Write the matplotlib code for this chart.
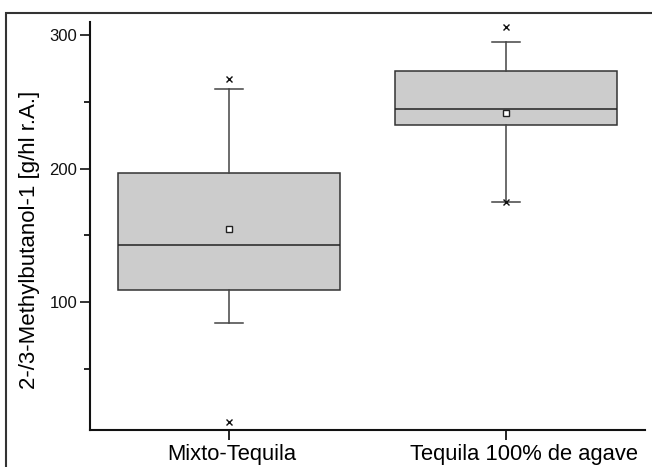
import matplotlib
matplotlib.use("Agg")
import matplotlib.pyplot as plt
from matplotlib.patches import Rectangle
from matplotlib.ticker import MultipleLocator
from matplotlib.transforms import ScaledTranslation

categories = ["Mixto-Tequila", "Tequila 100% de agave"]
whisker_low = [84, 175]
q1 = [109, 233]
median = [143, 245]
q3 = [197, 273]
whisker_high = [260, 295]
mean = [155, 242]
outliers = [[267, 10], [306, 175]]

plt.rcParams['font.family'] = ['Liberation Sans', 'DejaVu Sans']

fig = plt.figure(figsize=(6.52, 4.67), dpi=100)
ax = fig.add_axes([90/652, 1-430/467, 555/652, 408/467])

stats = []
for i in range(len(categories)):
    stats.append(dict(label=categories[i], whislo=whisker_low[i], q1=q1[i], med=median[i],
                      q3=q3[i], whishi=whisker_high[i], mean=mean[i], fliers=outliers[i]))

ax.bxp(stats, positions=[1, 2], widths=0.8, patch_artist=True, showmeans=True,
       boxprops=dict(facecolor='#cccccc', edgecolor='#333333', linewidth=1.1),
       medianprops=dict(color='#222222', linewidth=1.1),
       whiskerprops=dict(color='#444444', linewidth=1.1),
       capprops=dict(color='#444444', linewidth=1.1),
       capwidths=0.1,
       meanprops=dict(marker='s', markerfacecolor='white', markeredgecolor='#222222',
                      markersize=4, markeredgewidth=1),
       flierprops=dict(marker='x', markeredgecolor='#111111', markersize=4, markeredgewidth=1))

ax.set_xlim(0.5, 2.5)
ax.set_ylim(4, 310)
ax.set_xticks([1, 2])
ax.set_xticklabels(categories, fontsize=15.8)
ax.yaxis.set_major_locator(MultipleLocator(100))
ax.yaxis.set_minor_locator(MultipleLocator(50))
ax.set_yticks([100, 200, 300])
ax.tick_params(axis='y', which='major', length=7, width=1.2, labelsize=12, pad=2, colors='#111111')
ax.tick_params(axis='y', which='minor', length=4, width=1.2)
ax.tick_params(axis='x', which='major', length=7, width=1.2, pad=3)
for s in ['top', 'right']:
    ax.spines[s].set_visible(False)
for s in ['left', 'bottom']:
    ax.spines[s].set_linewidth(1.5)
    ax.spines[s].set_color('#111111')

offsets_px = [3, 18]
for lab, off in zip(ax.get_xticklabels(), offsets_px):
    lab.set_transform(lab.get_transform() + ScaledTranslation(off / 100, 0, fig.dpi_scale_trans))

ax.set_ylabel("2-/3-Methylbutanol-1 [g/hl r.A.]", fontsize=16)
ax.yaxis.set_label_coords(-50/555, 0.466)

fig.patches.append(Rectangle((6/652, -0.2), 1.5, 1.2 - 13/467, transform=fig.transFigure,
                             fill=False, edgecolor='#333333', linewidth=1.5, clip_on=False))

fig.savefig("out.png", dpi=100)
